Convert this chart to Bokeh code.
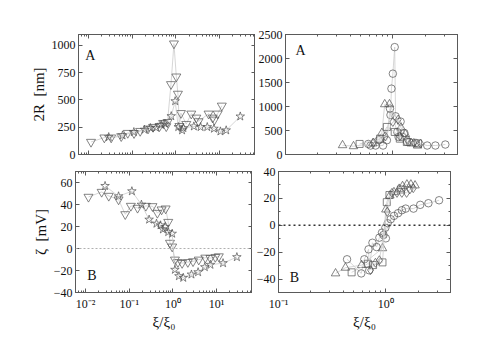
from bokeh.plotting import figure
from bokeh.layouts import column, row
from bokeh.models import (LogAxis, LinearAxis, FixedTicker, SingleIntervalTicker,
                          CustomJSTickFormatter, Span, Label, Range1d, Spacer)
from bokeh.embed import file_html
from bokeh.resources import INLINE

# ---------------- data ----------------
# Panel A (left): 2R [nm] vs xi/xi0
tl_tri_x = [0.0114, 0.023, 0.033, 0.056, 0.079, 0.11, 0.152, 0.23, 0.30, 0.42, 0.51, 0.60, 0.64,
            0.77, 0.90, 1.02, 1.11, 1.20, 1.30, 1.72, 2.24, 2.92, 3.29, 5.57, 6.9, 7.6, 9.0, 11.2]
tl_tri_y = [115, 155, 155, 167, 197, 195, 215, 237, 252, 258, 288, 258, 297,
            644, 1017, 714, 556, 260, 379, 279, 374, 337, 304, 374, 337, 319, 374, 447]
tl_star_x = [0.029, 0.06, 0.109, 0.19, 0.26, 0.35, 0.46, 0.56, 0.78, 0.96, 1.13, 1.38, 1.48,
             2.57, 3.66, 5.2, 7.4, 10.4, 14.1, 29.6]
tl_star_y = [160, 175, 206, 228, 243, 246, 273, 283, 352, 489, 252, 222, 243,
             258, 252, 252, 237, 212, 222, 349]

# Panel B (left): zeta [mV]
bl_tri_x = [0.0117, 0.0234, 0.034, 0.057, 0.081, 0.109, 0.155, 0.24, 0.34, 0.44, 0.55, 0.68, 0.78,
            0.855, 0.96, 1.11, 1.30, 1.62, 2.19, 2.88, 3.9, 5.5, 7.2, 9.3, 11.2]
bl_tri_y = [46.9, 51.4, 47.8, 44.5, 31.1, 38.7, 36.9, 38.7, 38.4, 32.3, 35.4, 36.3, 24.1,
            5.1, 1.7, -10.2, -12.4, -13.3, -12.4, -11.7, -10.2, -8.4, -8.7, -7.8, -7.2]
bl_star_x = [0.028, 0.057, 0.115, 0.19, 0.285, 0.42, 0.52, 0.59, 0.66, 0.78, 0.96, 1.11, 1.37,
             1.72, 2.65, 3.76, 5.35, 7.2, 14, 29]
bl_star_y = [56.9, 47.5, 52.1, 39.9, 26.3, 22.6, 21.1, 17.4, 19.6, 15.0, 13.5, -19.3, -25.1,
             -26.6, -23.6, -21.5, -16.9, -14.8, -13.3, -7.8]

# Panel A (right)
tr_circ_x = [0.59, 0.62, 0.69, 0.81, 0.95, 0.97, 1.0, 1.04, 1.06, 1.18, 1.28, 1.43, 1.64, 2.09, 2.49, 3.08]
tr_circ_y = [220, 187, 187, 187, 823, 1372, 1684, 2237, 796, 686, 449, 262, 241, 187, 187, 208]
tr_circ2_x = [0.74, 0.88, 0.94, 1.10, 1.13, 1.23, 1.36]
tr_circ2_y = [297, 297, 956, 470, 366, 366, 262]
tr_tri_x = [0.34, 0.43, 0.65, 0.79, 0.84, 0.93, 1.19, 1.31, 1.49, 1.70]
tr_tri_y = [193, 172, 230, 449, 1046, 1046, 561, 422, 229, 185]
tr_sq_x = [0.49, 0.76, 0.88, 1.04, 1.16, 1.35, 1.72]
tr_sq_y = [220, 330, 574, 470, 330, 260, 229]
tr_dia_x = [0.66, 0.85, 1.00, 1.12, 1.16, 1.36, 1.57, 1.81]
tr_dia_y = [250, 380, 678, 728, 380, 318, 241, 229]

# Panel B (right)
br_circ_x = [0.435, 0.59, 0.63, 0.69, 0.70, 0.75, 0.82, 0.87, 0.92, 0.95, 0.99, 1.0, 1.04, 1.11,
             1.19, 1.30, 1.41, 1.53, 1.81, 2.09, 2.49, 3.13]
br_circ_y = [-25.3, -35.8, -25.3, -17.9, -33.5, -13, -16.2, -9.2, -5.5, -7.2, -1.8, -9.7, 1.5, 4.5,
             7.0, 9.0, 11.2, 12.4, 12.4, 15.2, 16.4, 18.6]
br_tri_x = [0.34, 0.42, 0.595, 0.93, 1.0, 1.09, 1.19, 1.33, 1.43, 1.57, 1.71, 1.87]
br_tri_y = [-35.8, -31.6, -29.6, -17.1, 11.7, 22.1, 24.6, 27.1, 29.1, 30.3, 30.3, 29.6]
br_sq_x = [0.48, 0.68, 0.76, 0.93, 1.02, 1.08, 1.38]
br_sq_y = [-35, -28.6, -29.6, -27.6, 17.2, 22.5, 26.6]
br_dia_x = [0.72, 0.80, 0.87, 1.03, 1.14, 1.27, 1.41, 1.56, 1.67, 1.80]
br_dia_y = [-33.3, -27.9, -26, 10, 24.1, 24.1, 24.1, 24.1, 26.6, 27.6]

left_decades = [0.01, 0.1, 1, 10]
right_decades = [0.1, 1]
x_label = "ξ/ξ₀"
y_label_top = "2R\u00a0 [nm]"
y_label_bottom = "ζ\u00a0 [mV]"

# ---------------- styling ----------------
SERIF = "Liberation Serif"
AX = "#5a5a5a"
MK = "#505050"
LN = "#cccccc"


def minors(decs):
    out = []
    for d in [decs[0] / 10] + decs:
        out += [m * d for m in range(2, 10)]
    return out


log_fmt = CustomJSTickFormatter(code="""
const e = Math.round(Math.log10(tick));
const m = {'-2': '\u207b\u00b2', '-1': '\u207b\u00b9', '0': '\u2070', '1': '\u00b9', '2': '\u00b2'};
return '10' + m[String(e)];
""")


def blank():
    return CustomJSTickFormatter(code="return ''")


def style_axis(ax, labels=True):
    ax.major_tick_in = 4
    ax.major_tick_out = 0
    ax.minor_tick_in = 2
    ax.minor_tick_out = 0
    ax.axis_line_color = AX
    ax.major_tick_line_color = AX
    ax.minor_tick_line_color = AX
    ax.major_label_text_font = SERIF
    ax.major_label_text_font_size = "12px"
    ax.major_label_text_color = "#111111"
    ax.axis_label_text_font = SERIF
    ax.axis_label_text_font_size = "15px"
    ax.axis_label_text_font_style = "normal"
    ax.axis_label_text_color = "#111111"
    if not labels:
        ax.formatter = blank()
        ax.major_label_standoff = 0


def make_fig(xr, yr, fw, fh, bl, br, bt, bb, decs, yint, yminor, xlabels, ylab=None, xlab=None):
    p = figure(x_axis_type="log", x_range=Range1d(*xr), y_range=Range1d(*yr),
               frame_width=fw, frame_height=fh,
               min_border_left=bl, min_border_right=br, min_border_top=bt, min_border_bottom=bb,
               output_backend="svg", toolbar_location=None)
    p.grid.visible = False
    p.outline_line_color = AX
    p.background_fill_color = "white"
    p.border_fill_color = "white"
    xt = FixedTicker(ticks=decs, minor_ticks=minors(decs))
    yt = SingleIntervalTicker(interval=yint, num_minor_ticks=yminor)
    xa = p.xaxis[0]
    xa.ticker = xt
    style_axis(xa, xlabels)
    if xlabels:
        xa.formatter = log_fmt
        xa.major_label_standoff = 4
        xa.axis_label = xlab
        xa.axis_label_standoff = 0
    ya = p.yaxis[0]
    ya.ticker = yt
    style_axis(ya, True)
    ya.major_label_standoff = 3
    if ylab:
        ya.axis_label = ylab
        ya.axis_label_standoff = 2
    top = LogAxis(ticker=FixedTicker(ticks=decs, minor_ticks=minors(decs)))
    style_axis(top, False)
    p.add_layout(top, "above")
    right = LinearAxis(ticker=SingleIntervalTicker(interval=yint, num_minor_ticks=yminor))
    style_axis(right, False)
    p.add_layout(right, "right")
    return p


def series(p, x, y, marker, size):
    p.line(x, y, line_color=LN, line_width=0.8)
    p.scatter(x, y, marker=marker, size=size, line_color=MK, line_width=0.7, fill_alpha=0)


def letter(p, text, x, y):
    p.add_layout(Label(x=x, y=y, text=text, text_font=SERIF, text_font_size="14px",
                       text_color="#111111", text_baseline="alphabetic"))


LXR = (0.0059, 66)
RXR = (0.1, 4.0)

tl = make_fig(LXR, (0, 1100), 177, 120, 46, 0, 34, 8, left_decades, 250, 0, False,
              ylab=y_label_top)
series(tl, tl_tri_x, tl_tri_y, "inverted_triangle", 9)
series(tl, tl_star_x, tl_star_y, "star", 9)
letter(tl, "A", 0.0084, 905)

tr = make_fig(RXR, (0, 2500), 172, 120, 26, 34, 34, 8, right_decades, 500, 0, False)
series(tr, tr_circ_x, tr_circ_y, "circle", 7.5)
series(tr, tr_circ2_x, tr_circ2_y, "circle", 7.5)
series(tr, tr_tri_x, tr_tri_y, "triangle", 8.5)
series(tr, tr_sq_x, tr_sq_y, "square", 7)
series(tr, tr_dia_x, tr_dia_y, "diamond", 9)
letter(tr, "A", 0.124, 2168)

bl = make_fig(LXR, (-40, 70), 177, 121, 44, 0, 9, 36, left_decades, 20, 0, True,
              ylab=y_label_bottom, xlab=x_label)
bl.add_layout(Span(location=0, dimension="width", line_color="#b0b0b0", line_dash="2 2",
                   line_width=1))
series(bl, bl_tri_x, bl_tri_y, "inverted_triangle", 9)
series(bl, bl_star_x, bl_star_y, "star", 9)
letter(bl, "B", 0.0109, -24.5)

br = make_fig(RXR, (-50, 40), 172, 121, 26, 34, 9, 36, right_decades, 20, 2, True, xlab=x_label)
br.add_layout(Span(location=0, dimension="width", line_color="#333333", line_dash="2 3",
                   line_width=1.5))
series(br, br_circ_x, br_circ_y, "circle", 7.5)
series(br, br_tri_x, br_tri_y, "triangle", 8.5)
series(br, br_sq_x, br_sq_y, "square", 7)
series(br, br_dia_x, br_dia_y, "diamond", 9)
letter(br, "B", 0.127, -39)

layout = column(row(Spacer(width=27, height=10), tl, tr),
                row(Spacer(width=29, height=10), bl, br))
open("out.html", "w").write(file_html(layout, INLINE))
